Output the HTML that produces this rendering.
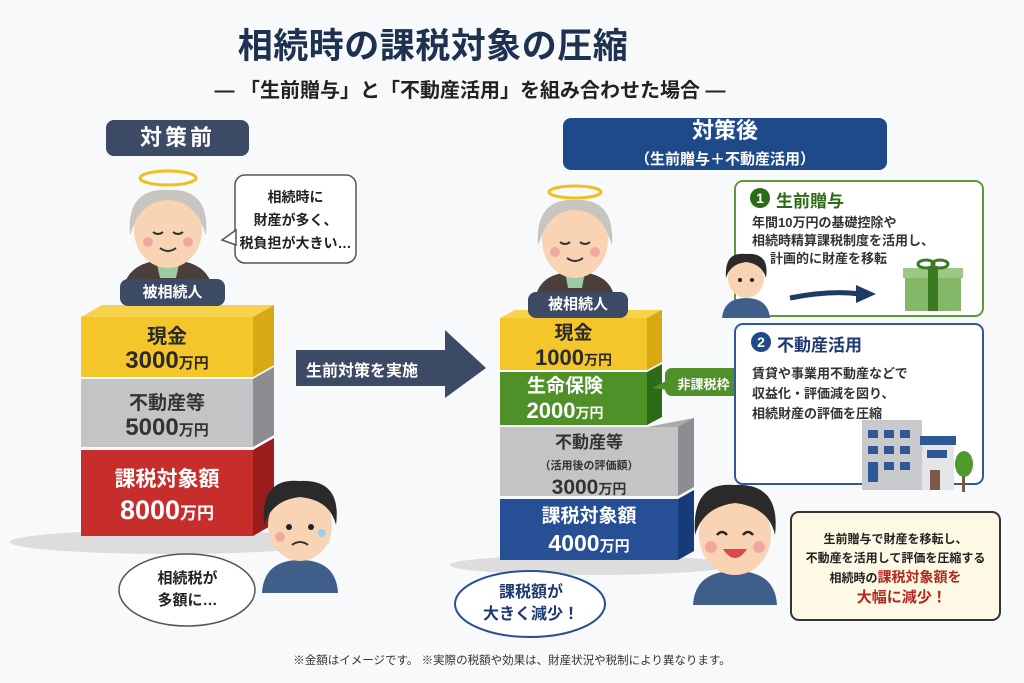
<!DOCTYPE html>
<html><head><meta charset="utf-8"><style>
body{margin:0;width:1024px;height:683px;background:#f8f9fa;position:relative;overflow:hidden;font-family:"Liberation Sans","Noto Sans CJK JP",sans-serif;font-weight:bold;color:#222}
.a{position:absolute}
.c{text-align:center}
.num{position:absolute;width:20px;height:20px;border-radius:50%;color:#fff;font-size:14px;line-height:20px;text-align:center}
</style></head><body>
<div class="a c" style="left:0;width:866px;top:18px;font-size:35px;color:#1e3150;letter-spacing:0.5px">相続時の課税対象の圧縮</div>
<div class="a c" style="left:0;width:940px;top:74px;font-size:20px;color:#222;font-weight:bold">― 「生前贈与」と「不動産活用」を組み合わせた場合 ―</div>

<div class="a c" style="left:106px;top:120px;width:143px;height:36px;line-height:36px;background:#3c4a65;color:#fff;border-radius:8px;font-size:22px;letter-spacing:3px">対策前</div>
<div class="a c" style="left:563px;top:118px;width:324px;height:52px;background:#1f4a8a;color:#fff;border-radius:8px;font-size:22px;line-height:26px">対策後<br><span style="font-size:15px;line-height:20px">（生前贈与＋不動産活用）</span></div>

<svg class="a" style="left:0;top:0" width="1024" height="683">
<ellipse cx="170" cy="542" rx="160" ry="12" fill="#ddd"/>
<polygon points="81,317 102,305 274,305 253,317" fill="#f7d24a"/>
<rect x="81" y="317" width="172" height="60" fill="#f4c62a"/>
<polygon points="253,317 274,305 274,365 253,377" fill="#d9a914"/>
<rect x="81" y="379" width="172" height="68" fill="#c3c4c6"/>
<polygon points="253,379 274,367 274,435 253,447" fill="#8c8d90"/>
<rect x="81" y="450" width="172" height="86" fill="#c62d2b"/>
<polygon points="253,450 274,438 274,524 253,536" fill="#9b1d1b"/>
<polygon points="296,350 445,350 445,330 486,368 445,398 445,386 296,386" fill="#3c4a65"/>
<ellipse cx="590" cy="565" rx="140" ry="10" fill="#ddd"/>
<polygon points="500,318 515,310 662,310 662,318" fill="#f7d24a"/>
<rect x="500" y="318" width="147" height="52" fill="#f4c62a"/>
<polygon points="647,318 662,310 662,362 647,370" fill="#d9a914"/>
<rect x="500" y="372" width="147" height="53" fill="#4f9128"/>
<polygon points="647,372 662,364 662,417 647,425" fill="#2e6b17"/>
<polygon points="647,427 694,418 694,425 647,432" fill="#aaa"/>
<rect x="500" y="427" width="178" height="69" fill="#c3c4c6"/>
<polygon points="678,427 694,418 694,487 678,496" fill="#8c8d90"/>
<rect x="500" y="499" width="178" height="61" fill="#264f95"/>
<polygon points="678,499 694,490 694,551 678,560" fill="#173a78"/>
<rect x="665" y="368" width="77" height="28" rx="7" fill="#4f9128"/>
<polygon points="668,380 652,388 668,390" fill="#4f9128"/>
<rect x="235" y="175" width="121" height="88" rx="10" fill="#fff" stroke="#555" stroke-width="1.5"/>
<polygon points="236,230 222,240 236,245" fill="#fff" stroke="#555" stroke-width="1.5"/>
<rect x="237" y="231" width="3" height="13" fill="#fff"/>
<ellipse cx="187" cy="590" rx="68" ry="36" fill="#fff" stroke="#555" stroke-width="1.5"/>
<ellipse cx="530" cy="604" rx="75" ry="33" fill="#fff" stroke="#264f95" stroke-width="2"/>
<rect x="735" y="181" width="248" height="135" rx="8" fill="#fff" stroke="#5b9a3a" stroke-width="2"/>
<rect x="735" y="324" width="248" height="160" rx="8" fill="#fff" stroke="#2c5a9a" stroke-width="2"/>
<rect x="791" y="512" width="209" height="108" rx="8" fill="#fdf9e4" stroke="#333" stroke-width="2"/>
<path d="M790,298 Q830,290 860,294" stroke="#1e3a66" stroke-width="5" fill="none"/>
<polygon points="856,285 876,294 856,303" fill="#1e3a66"/>
<rect x="905" y="275" width="56" height="36" fill="#84b868"/>
<rect x="903" y="268" width="60" height="10" fill="#9bc983"/>
<rect x="928" y="268" width="10" height="43" fill="#3b7a22"/>
<ellipse cx="926" cy="264" rx="8" ry="4" fill="none" stroke="#3b7a22" stroke-width="3"/>
<ellipse cx="940" cy="264" rx="8" ry="4" fill="none" stroke="#3b7a22" stroke-width="3"/>
<rect x="862" y="420" width="60" height="70" fill="#c7c9cd"/>
<g fill="#2f5896"><rect x="868" y="430" width="10" height="8"/><rect x="884" y="430" width="10" height="8"/><rect x="900" y="430" width="10" height="8"/><rect x="868" y="446" width="10" height="8"/><rect x="884" y="446" width="10" height="8"/><rect x="900" y="446" width="10" height="8"/><rect x="868" y="462" width="10" height="20"/><rect x="884" y="462" width="10" height="8"/><rect x="900" y="462" width="10" height="8"/></g>
<rect x="922" y="443" width="32" height="47" fill="#e4e5e7"/>
<rect x="920" y="436" width="36" height="9" fill="#2f5896"/>
<rect x="927" y="450" width="20" height="8" fill="#2f5896"/>
<rect x="930" y="470" width="10" height="20" fill="#7a5a4a"/>
<rect x="962" y="460" width="3" height="32" fill="#7a5a3a"/>
<ellipse cx="964" cy="464" rx="9" ry="13" fill="#4f9a2d"/>
<g transform="translate(168,230)">
<ellipse cx="0" cy="-52" rx="28" ry="7" fill="none" stroke="#f0c020" stroke-width="3"/>
<path d="M-45,60 Q-40,30 0,30 Q40,30 45,60 Z" fill="#4a3f3a"/>
<path d="M-12,30 L12,30 L8,48 L-8,48Z" fill="#9dc9a3"/>
<ellipse cx="0" cy="0" rx="34" ry="38" fill="#f8d4b4"/>
<path d="M-38,5 Q-42,-42 0,-40 Q42,-42 38,5 L32,-10 Q20,-30 0,-30 Q-20,-30 -32,-10Z" fill="#c8c4c0"/>
<path d="M-15,2 q5,4 10,0 M5,2 q5,4 10,0" stroke="#333" stroke-width="2" fill="none"/>
<path d="M-8,18 q8,6 16,0" stroke="#333" stroke-width="2" fill="none"/>
<circle cx="-20" cy="12" r="5" fill="#f2a8a0"/><circle cx="20" cy="12" r="5" fill="#f2a8a0"/>
</g>
<g transform="translate(575,250)">
<ellipse cx="0" cy="-58" rx="26" ry="6" fill="none" stroke="#f0c020" stroke-width="3"/>
<path d="M-40,50 Q-36,22 0,22 Q36,22 40,50 Z" fill="#4a3f3a"/>
<path d="M-10,22 L10,22 L7,38 L-7,38Z" fill="#9dc9a3"/>
<ellipse cx="0" cy="-10" rx="33" ry="38" fill="#f8d4b4"/>
<path d="M-37,-5 Q-40,-52 0,-50 Q40,-52 37,-5 L31,-20 Q20,-40 0,-40 Q-20,-40 -31,-20Z" fill="#c8c4c0"/>
<path d="M-15,-8 q5,4 10,0 M5,-8 q5,4 10,0" stroke="#333" stroke-width="2" fill="none"/>
<path d="M-8,8 q8,6 16,0" stroke="#333" stroke-width="2" fill="none"/>
<circle cx="-20" cy="2" r="5" fill="#f2a8a0"/><circle cx="20" cy="2" r="5" fill="#f2a8a0"/>
</g>
<g transform="translate(300,525)">
<path d="M-38,68 Q-36,35 0,35 Q36,35 38,68Z" fill="#3f5f8a"/>
<ellipse cx="0" cy="0" rx="32" ry="36" fill="#f8d4b4"/>
<path d="M-36,0 Q-40,-48 0,-44 Q42,-46 36,0 Q30,-25 0,-28 Q-28,-25 -36,0Z" fill="#2b2a2a"/>
<circle cx="-11" cy="2" r="3" fill="#222"/><circle cx="11" cy="2" r="3" fill="#222"/>
<path d="M-8,20 q8,-6 16,0" stroke="#333" stroke-width="2" fill="none"/>
<circle cx="-20" cy="12" r="5" fill="#f2a8a0"/><circle cx="22" cy="8" r="4" fill="#9dd0f0"/>
</g>
<g transform="translate(735,535)">
<path d="M-42,70 Q-40,36 0,36 Q40,36 42,70Z" fill="#3f5f8a"/>
<ellipse cx="0" cy="0" rx="36" ry="40" fill="#f8d4b4"/>
<path d="M-40,0 Q-44,-54 0,-50 Q46,-52 40,0 Q34,-28 0,-32 Q-32,-28 -40,0Z" fill="#2b2a2a"/>
<path d="M-18,0 q5,-6 10,0 M8,0 q5,-6 10,0" stroke="#222" stroke-width="2.5" fill="none"/>
<path d="M-12,14 q12,18 24,0Z" fill="#d94a4a"/>
<circle cx="-24" cy="12" r="6" fill="#f2a8a0"/><circle cx="24" cy="12" r="6" fill="#f2a8a0"/>
</g>
<g transform="translate(746,278)">
<path d="M-24,40 Q-22,20 0,20 Q22,20 24,40Z" fill="#3f5f8a"/>
<ellipse cx="0" cy="0" rx="18" ry="20" fill="#f8d4b4"/>
<path d="M-20,0 Q-22,-27 0,-24 Q24,-26 20,0 Q16,-14 0,-16 Q-16,-14 -20,0Z" fill="#2b2a2a"/>
<circle cx="-6" cy="2" r="2" fill="#222"/><circle cx="6" cy="2" r="2" fill="#222"/>
</g>
</svg>

<div class="a c" style="left:120px;top:279px;width:105px;height:27px;line-height:27px;background:#3c4a65;color:#fff;border-radius:8px;font-size:15px">被相続人</div>
<div class="a c" style="left:528px;top:292px;width:100px;height:26px;line-height:26px;background:#3c4a65;color:#fff;border-radius:8px;font-size:15px">被相続人</div>

<div class="a c" style="left:235px;top:186px;width:121px;font-size:14px;line-height:23px">相続時に<br>財産が多く、<br>税負担が大きい…</div>
<div class="a c" style="left:120px;top:568px;width:135px;font-size:15px;line-height:22px">相続税が<br>多額に…</div>
<div class="a c" style="left:456px;top:582px;width:150px;font-size:16px;line-height:22px;color:#1f3a70">課税額が<br>大きく減少！</div>

<div class="a c" style="left:81px;top:325px;width:172px;font-size:20px;line-height:24px;color:#2a2a2a">現金<br><span style="font-size:24px">3000</span><span style="font-size:15px">万円</span></div>
<div class="a c" style="left:81px;top:392px;width:172px;font-size:19px;line-height:24px;color:#333">不動産等<br><span style="font-size:24px">5000</span><span style="font-size:15px">万円</span></div>
<div class="a c" style="left:81px;top:465px;width:172px;font-size:21px;line-height:30px;color:#fff">課税対象額<br><span style="font-size:27px">8000</span><span style="font-size:17px">万円</span></div>
<div class="a" style="left:306px;top:357px;width:160px;font-size:16px;color:#fff;white-space:nowrap">生前対策を実施</div>

<div class="a c" style="left:500px;top:322px;width:147px;font-size:19px;line-height:24px;color:#2a2a2a">現金<br><span style="font-size:22px">1000</span><span style="font-size:14px">万円</span></div>
<div class="a c" style="left:500px;top:375px;width:130px;font-size:19px;line-height:24px;color:#fff">生命保険<br><span style="font-size:22px">2000</span><span style="font-size:14px">万円</span></div>
<div class="a c" style="left:665px;top:374px;width:77px;font-size:13px;color:#fff">非課税枠</div>
<div class="a c" style="left:500px;top:432px;width:178px;font-size:17px;line-height:21px;color:#333">不動産等<br><span style="font-size:11px">（活用後の評価額）</span><br><span style="font-size:21px">3000</span><span style="font-size:14px">万円</span></div>
<div class="a c" style="left:500px;top:504px;width:178px;font-size:19px;line-height:26px;color:#fff">課税対象額<br><span style="font-size:23px">4000</span><span style="font-size:15px">万円</span></div>

<div class="num" style="left:750px;top:188px;background:#2e6b17">1</div>
<div class="a" style="left:776px;top:187px;font-size:17px;color:#2e6b17">生前贈与</div>
<div class="a" style="left:752px;top:214px;font-size:13px;line-height:18px;color:#333">年間10万円の基礎控除や<br>相続時精算課税制度を活用し、<br>&nbsp;&nbsp;&nbsp;&nbsp;&nbsp;計画的に財産を移転</div>
<div class="num" style="left:751px;top:332px;background:#1f4a8a">2</div>
<div class="a" style="left:777px;top:331px;font-size:17px;color:#1f3a70">不動産活用</div>
<div class="a" style="left:752px;top:364px;font-size:13px;line-height:20px;color:#333">賃貸や事業用不動産などで<br>収益化・評価減を図り、<br>相続財産の評価を圧縮</div>

<div class="a c" style="left:791px;top:530px;width:209px;font-size:12px;line-height:19px;color:#222">生前贈与で財産を移転し、<br>不動産を活用して評価を圧縮する<br>相続時の<span style="color:#b3261e;font-size:14px">課税対象額を</span><br><span style="color:#b3261e;font-size:15px">&nbsp;&nbsp;&nbsp;大幅に減少！</span></div>

<div class="a c" style="left:0;width:1024px;top:652px;font-size:11.5px;font-weight:normal;color:#333">※金額はイメージです。 ※実際の税額や効果は、財産状況や税制により異なります。</div>
</body></html>
